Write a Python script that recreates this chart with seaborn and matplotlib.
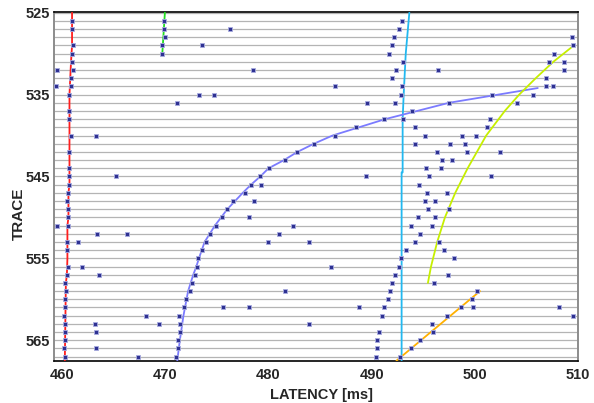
import numpy as np
import pandas as pd
import matplotlib
matplotlib.use('Agg')
import matplotlib.pyplot as plt
import seaborn as sns

sns.set_style('white')
plt.rcParams['font.family'] = ['Liberation Sans Narrow', 'Liberation Sans', 'DejaVu Sans']

# picked latencies [ms] per trace
trace_ids = list(range(526, 568))
picks_top = [
    [460.9, 469.9, 492.9],                                   # 526
    [460.9, 469.85, 476.3, 492.6],                           # 527
    [470.0, 492.2, 509.4],                                   # 528
    [461.0, 469.7, 473.5, 492.0, 509.5],                     # 529
    [460.9, 469.7, 491.7, 507.7],                            # 530
    [460.9, 493.0, 507.2, 508.6],                            # 531
    [459.5, 461.0, 478.5, 492.4, 496.4, 508.6],              # 532
    [460.8, 492.0, 506.9],                                   # 533
    [459.4, 460.8, 486.4, 492.9, 506.9, 507.6],              # 534
    [460.7, 473.3, 474.7, 492.8, 501.7, 505.6],              # 535
    [471.1, 489.5, 492.3, 497.5, 504.1],                     # 536
    [460.7, 493.9],                                          # 537
    [460.7, 491.2, 493.0, 501.5],                            # 538
    [488.5, 494.2, 501.2],                                   # 539
    [460.8, 463.3, 486.4, 495.2, 498.8, 500.1],              # 540
    [484.4, 494.2, 497.6, 499.0],                            # 541
    [460.7, 482.8, 496.3, 499.2, 502.4],                     # 542
    [481.6, 496.8, 497.8],                                   # 543
    [460.7, 480.0, 495.3, 496.7],                            # 544
    [460.7, 465.2, 479.2, 489.4, 495.6, 501.6],              # 545
    [460.7, 478.3, 479.3, 494.6],                            # 546
]
picks_bottom = [
    [460.55, 477.7, 495.4, 497.3],                           # 547
    [460.5, 476.6, 478.6, 495.2, 496.1],                     # 548
    [460.6, 476.0, 495.5, 497.5],                            # 549
    [460.6, 475.5, 478.1, 494.5, 496.1],                     # 550
    [459.5, 460.6, 474.9, 482.4, 493.8, 495.8],              # 551
    [463.4, 466.3, 474.3, 481.0, 494.7],                     # 552
    [460.5, 461.5, 473.9, 479.9, 483.9, 494.2, 496.5],       # 553
    [460.5, 473.5, 493.3, 497.0],                            # 554
    [473.2, 492.8, 498.0],                                   # 555
    [460.6, 461.9, 473.1, 486.1, 492.6],                     # 556
    [460.5, 463.6, 472.9, 492.3, 497.4],                     # 557
    [460.3, 472.6, 492.0, 496.0],                            # 558
    [460.35, 472.4, 481.6, 491.8, 500.2],                    # 559
    [460.3, 472.0, 491.6, 499.7],                            # 560
    [460.3, 471.8, 475.6, 478.1, 488.8, 491.2, 498.7, 499.8, 508.2],  # 561
    [460.2, 468.1, 471.3, 491.0, 497.3, 509.5],              # 562
    [460.3, 463.2, 469.4, 471.4, 483.9, 495.8],              # 563
    [460.3, 463.3, 471.4, 490.7, 495.9],                     # 564
    [460.3, 471.2, 490.5, 494.7],                            # 565
    [460.2, 463.3, 471.2, 490.5, 493.8],                     # 566
    [460.3, 467.3, 471.0, 490.4, 492.7],                     # 567
]

# fitted phase lines (trace, latency)
red_trace = [525, 529, 531, 535, 540, 546, 547, 550, 551, 555, 557, 558, 567.5]
red_ms = [460.95, 460.95, 460.85, 460.7, 460.7, 460.7, 460.6, 460.6, 460.5, 460.5, 460.45, 460.35, 460.25]
green_trace = [525, 530]
green_ms = [469.95, 469.7]
cyan_trace = [525, 530, 535, 538, 544.5, 544.5, 567.5]
cyan_ms = [493.65, 493.3, 493.1, 493.0, 493.0, 492.9, 492.9]
blue_trace = [567.5, 565, 562, 559, 557, 556, 555, 553, 551, 549, 547, 546, 545, 544, 543, 542, 541, 540, 538, 536, 534.2]
blue_ms = [471.15, 471.4, 471.75, 472.2, 472.7, 473.0, 473.25, 473.8, 474.8, 476.0, 477.5, 478.3, 479.2, 480.0, 481.5, 482.8, 484.4, 486.2, 491.3, 497.5, 506.1]
yellow_trace = [529, 531, 533, 535, 537, 540, 542, 544, 547, 550, 553, 556, 558]
yellow_ms = [509.6, 507.6, 505.9, 504.3, 502.9, 501.1, 500.2, 499.3, 498.1, 497.1, 496.35, 495.75, 495.45]
orange_trace = [567.5, 559.0]
orange_ms = [492.4, 500.5]

rows = []
for t, lat in zip(trace_ids, picks_top + picks_bottom):
    for v in lat:
        rows.append((t, v))
df = pd.DataFrame(rows, columns=['trace', 'latency'])

fig = plt.figure(figsize=(5.94, 4.03), dpi=100)
ax = fig.add_axes([54 / 594, 1 - 360.7 / 403, 524 / 594, 348.4 / 403])

lines = [
    (red_ms, red_trace, '#ff1e1e'),
    (green_ms, green_trace, '#22dd22'),
    (cyan_ms, cyan_trace, '#22b8f0'),
    (blue_ms, blue_trace, '#7b7bff'),
    (yellow_ms, yellow_trace, '#c6ef00'),
    (orange_ms, orange_trace, '#ffb000'),
]
for xs, ys, c in lines:
    sns.lineplot(x=xs, y=ys, sort=False, estimator=None, color=c, lw=1.3, ax=ax, zorder=3)

sns.scatterplot(data=df, x='latency', y='trace', marker='s', s=10, color='#2e3192',
                edgecolor='#a8acdf', linewidth=0.6, ax=ax, zorder=4)

ax.set_xlim(459.2, 509.8)
ax.set_ylim(567.5, 524.95)
ax.set_xticks(np.arange(460, 511, 10))
ax.set_yticks(np.arange(525, 566, 10))
ax.set_yticks(np.arange(525, 568, 1), minor=True)
ax.yaxis.grid(True, which='both', color='#b4b4b4', lw=0.9)
ax.set_axisbelow(True)
ax.tick_params(axis='both', which='both', length=0)
ax.tick_params(axis='y', pad=3)
ax.tick_params(axis='x', pad=5)
for lab in ax.get_xticklabels() + ax.get_yticklabels():
    lab.set_fontsize(10.5)
    lab.set_fontweight('bold')

ax.spines['top'].set_color('black')
ax.spines['bottom'].set_color('black')
ax.spines['left'].set_color('#8c8c8c')
ax.spines['right'].set_color('#8c8c8c')
ax.spines['left'].set_linewidth(1.4)
ax.spines['right'].set_linewidth(1.4)
ax.spines['top'].set_linewidth(1.2)
ax.spines['bottom'].set_linewidth(1.2)

ax.set_xlabel('')
ax.set_ylabel('')
fig.text(19 / 594, 1 - 214 / 403, 'TRACE', rotation=90, ha='center', va='center',
         fontsize=11, fontweight='bold', family=['Liberation Sans', 'DejaVu Sans'])
fig.text(321 / 594, 1 - 395 / 403, 'LATENCY [ms]', ha='center', va='center',
         fontsize=10.5, fontweight='bold', family=['Liberation Sans', 'DejaVu Sans'])

fig.savefig('out.png', dpi=100)
